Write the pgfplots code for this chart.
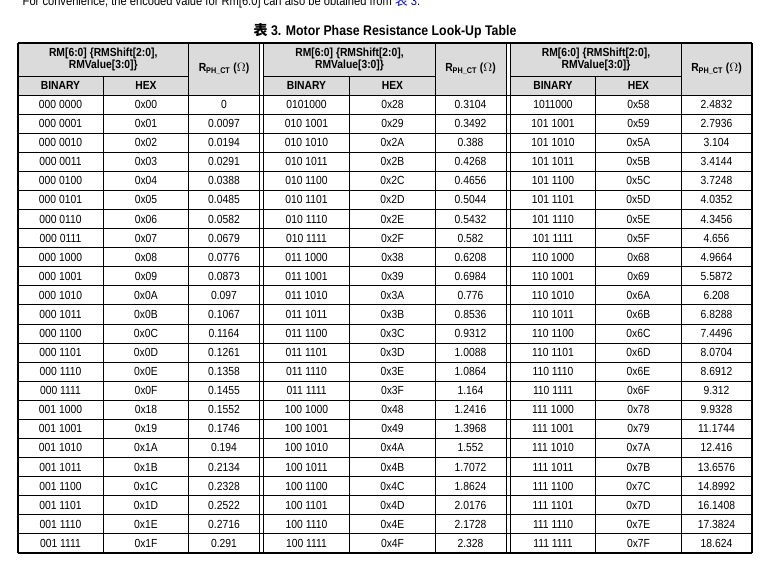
\documentclass[border=0pt]{standalone}
\usepackage{pgfplots}
\pgfplotsset{compat=1.18}
\usepackage{fontspec}
\setmainfont{Liberation Sans}[FakeStretch=0.88]
\newfontfamily\cjk{Noto Sans CJK SC}
\begin{document}
\begin{tikzpicture}
\begin{axis}[scale only axis, width=581.25pt, height=436.5pt, xmin=0, xmax=775, ymin=0, ymax=582, y dir=reverse, hide axis, clip=true]
\addplot[draw=none] coordinates {(0,0) (775,582)};
\pgfplotsextra{
\fill[white] (axis cs:0,0) rectangle (axis cs:775,582);
\node[font=\fontsize{9.5pt}{10pt}\selectfont, anchor=base west] at (axis cs:18,5) {For convenience, the encoded value for Rm[6:0] can also be obtained from {\cjk\color{blue!80!black}表} \textcolor{blue!80!black}{3}.};
\node[font=\fontsize{10.5pt}{11pt}\selectfont\bfseries] at (axis cs:385,31) {{\cjk 表} 3. Motor Phase Resistance Look-Up Table};
\fill[gray!28] (axis cs:18,43) rectangle (axis cs:752,95);
\fill[white] (axis cs:259.5,43) rectangle (axis cs:263.5,95);
\fill[white] (axis cs:506.5,43) rectangle (axis cs:510.5,95);
\foreach \i in {0,...,24} {\draw[line width=0.6pt] (axis cs:18,95+19.08*\i) -- (axis cs:752,95+19.08*\i);}
\draw[line width=1pt] (axis cs:18,43) -- (axis cs:752,43);
\draw[line width=1pt] (axis cs:18,553) -- (axis cs:752,553);
\foreach \x in {18,259.5,263.5,506.5,510.5,752} {\draw[line width=0.8pt] (axis cs:\x,43) -- (axis cs:\x,553);}
\foreach \x in {103.5,188.5,349.5,435.5,595.5,681.5} {\draw[line width=0.5pt] (axis cs:\x,76) -- (axis cs:\x,553);}
\foreach \x in {188.5,435.5,681.5} {\draw[line width=0.5pt] (axis cs:\x,43) -- (axis cs:\x,76);}
\foreach \a/\b in {18/188.5,263.5/435.5,510.5/681.5} {\draw[line width=0.5pt] (axis cs:\a,76) -- (axis cs:\b,76);}
\foreach \c/\r in {103.25/224,349.5/470.5,596/716.5} {
 \node[font=\fontsize{8.8pt}{9.6pt}\selectfont\bfseries, align=center] at (axis cs:\c,59.5) {RM[6:0] \{RMShift[2:0],\\RMValue[3:0]\}};
 \node[font=\fontsize{8.8pt}{9pt}\selectfont\bfseries] at (axis cs:\r,69) {R\textsubscript{PH\_CT} ($\Omega$)};
}
\foreach \c in {60.5,306.5,553} {\node[font=\fontsize{8.8pt}{9pt}\selectfont\bfseries] at (axis cs:\c,85.5) {BINARY};}
\foreach \c in {146,392.5,638.5} {\node[font=\fontsize{8.8pt}{9pt}\selectfont\bfseries] at (axis cs:\c,85.5) {HEX};}
\foreach \i/\a/\b/\c/\d/\e/\f/\g/\h/\k in {
0/000 0000/0x00/0/0101000/0x28/0.3104/1011000/0x58/2.4832,
1/000 0001/0x01/0.0097/010 1001/0x29/0.3492/101 1001/0x59/2.7936,
2/000 0010/0x02/0.0194/010 1010/0x2A/0.388/101 1010/0x5A/3.104,
3/000 0011/0x03/0.0291/010 1011/0x2B/0.4268/101 1011/0x5B/3.4144,
4/000 0100/0x04/0.0388/010 1100/0x2C/0.4656/101 1100/0x5C/3.7248,
5/000 0101/0x05/0.0485/010 1101/0x2D/0.5044/101 1101/0x5D/4.0352,
6/000 0110/0x06/0.0582/010 1110/0x2E/0.5432/101 1110/0x5E/4.3456,
7/000 0111/0x07/0.0679/010 1111/0x2F/0.582/101 1111/0x5F/4.656,
8/000 1000/0x08/0.0776/011 1000/0x38/0.6208/110 1000/0x68/4.9664,
9/000 1001/0x09/0.0873/011 1001/0x39/0.6984/110 1001/0x69/5.5872,
10/000 1010/0x0A/0.097/011 1010/0x3A/0.776/110 1010/0x6A/6.208,
11/000 1011/0x0B/0.1067/011 1011/0x3B/0.8536/110 1011/0x6B/6.8288,
12/000 1100/0x0C/0.1164/011 1100/0x3C/0.9312/110 1100/0x6C/7.4496,
13/000 1101/0x0D/0.1261/011 1101/0x3D/1.0088/110 1101/0x6D/8.0704,
14/000 1110/0x0E/0.1358/011 1110/0x3E/1.0864/110 1110/0x6E/8.6912,
15/000 1111/0x0F/0.1455/011 1111/0x3F/1.164/110 1111/0x6F/9.312,
16/001 1000/0x18/0.1552/100 1000/0x48/1.2416/111 1000/0x78/9.9328,
17/001 1001/0x19/0.1746/100 1001/0x49/1.3968/111 1001/0x79/11.1744,
18/001 1010/0x1A/0.194/100 1010/0x4A/1.552/111 1010/0x7A/12.416,
19/001 1011/0x1B/0.2134/100 1011/0x4B/1.7072/111 1011/0x7B/13.6576,
20/001 1100/0x1C/0.2328/100 1100/0x4C/1.8624/111 1100/0x7C/14.8992,
21/001 1101/0x1D/0.2522/100 1101/0x4D/2.0176/111 1101/0x7D/16.1408,
22/001 1110/0x1E/0.2716/100 1110/0x4E/2.1728/111 1110/0x7E/17.3824,
23/001 1111/0x1F/0.291/100 1111/0x4F/2.328/111 1111/0x7F/18.624} {
 \pgfmathsetmacro\yy{104.5+19.08*\i}
 \begin{scope}[every node/.style={font=\fontsize{8.8pt}{9pt}\selectfont}]
 \node at (axis cs:60.5,\yy) {\a}; \node at (axis cs:146,\yy) {\b}; \node at (axis cs:224,\yy) {\c};
 \node at (axis cs:306.5,\yy) {\d}; \node at (axis cs:392.5,\yy) {\e}; \node at (axis cs:470.5,\yy) {\f};
 \node at (axis cs:553,\yy) {\g}; \node at (axis cs:638.5,\yy) {\h}; \node at (axis cs:716.5,\yy) {\k};
 \end{scope}
}
}
\end{axis}
\end{tikzpicture}
\end{document}
